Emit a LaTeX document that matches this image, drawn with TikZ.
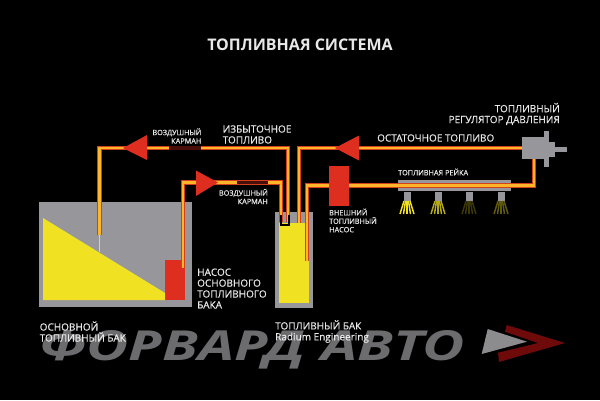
\documentclass[tikz,border=0pt]{standalone}
\usepackage{fontspec}
\setmainfont{Open Sans}
\newfontfamily\labfont[FakeBold=0.6]{Open Sans}
\definecolor{bgk}{HTML}{000000}
\definecolor{tankgray}{HTML}{97979B}
\definecolor{fuel}{HTML}{F0E122}
\definecolor{redp}{HTML}{DD2E20}
\definecolor{pipeo}{HTML}{FFB52A}
\definecolor{piper}{HTML}{D2401C}
\definecolor{pocket}{HTML}{4A0E0A}
\definecolor{txt}{HTML}{E8E8E8}
\definecolor{logogray}{HTML}{6C6C6E}
\definecolor{logotri}{HTML}{8C8C8E}
\definecolor{logored}{HTML}{6E0A0A}
\tikzset{
 x=1pt,y=-1pt,
 pipe/.style={draw=piper,line width=1.1pt,double=pipeo,double distance=2.2pt,line join=miter},
 air/.style={draw=pocket,line width=3.5pt},
 labs/.style={text=txt,inner sep=0pt,font=\labfont\fontsize{7.3}{8.5}\selectfont,align=left},
 labl/.style={text=txt,inner sep=0pt,font=\labfont\fontsize{10}{10.9}\selectfont,align=left},
 tank/.style={fill=tankgray,draw=none},
 pumpbox/.style={fill=redp,draw=none},
 arrowhead/.style={fill=redp,draw=none},
 graypart/.style={fill=tankgray,draw=none},
}
\newcommand{\spray}[2]{%
 \foreach \dx/\ex in {-3/-7,-1.5/-3.5,0/0,1.5/3.5,3/7}{
  \draw[color=#2,line width=1.5pt] (#1+\dx,201)--(#1+\ex,214);}
}
\begin{document}
\begin{tikzpicture}
\useasboundingbox (0,0) rectangle (600,400);
\fill[bgk] (0,0) rectangle (600,400);
% watermark logo
\node[anchor=base west,inner sep=0pt,text=logogray] (logotext) at (39,360)
 {\resizebox{426pt}{30pt}{\bfseries\itshape ФОРВАРД АВТО}};
\fill[logored] (506.7,325)--(565,343)--(499,362)--(498,352.7)--(538,343)--(505,331.7)--cycle;
\fill[logotri] (487.7,329)--(527,341.7)--(481.7,354)--cycle;
% main tank
\fill[tank] (39,202) rectangle (192,307);
\fill[fuel] (43,218)--(165,293)--(165,300)--(43,300)--cycle;
\fill[pumpbox] (165,260) rectangle (185,300);
% fuel tank
\fill[tank] (275,212) rectangle (313,308);
\fill[fuel] (279,223) rectangle (309,303);
% pipes
\draw[fuel,line width=1pt] (99.5,235)--(99.5,252);
\coordinate (p1a) at (99.5,235); \coordinate (p1b) at (99.5,148); \coordinate (p1c) at (288,148); \coordinate (p1d) at (288,222);
\draw[pipe] (p1a)--(p1b)--(p1c)--(p1d);
\coordinate (p2a) at (183,268); \coordinate (p2b) at (183,182.5); \coordinate (p2c) at (281,182.5); \coordinate (p2d) at (281,222);
\draw[pipe] (p2a)--(p2b)--(p2c)--(p2d);
\draw[black,line width=1.2pt] (281,215)--(281,225)--(289,225)--(289,215);
\coordinate (p3a) at (299,223); \coordinate (p3b) at (299,148); \coordinate (p3c) at (522,148);
\draw[pipe] (p3a)--(p3b)--(p3c);
\coordinate (p4a) at (307,261); \coordinate (p4b) at (307,185.5); \coordinate (p4c) at (534,185.5); \coordinate (p4d) at (534,159);
% rail behind pipe
\fill[graypart] (398,180) rectangle (511,191);
\draw[pipe] (p4a)--(p4b)--(p4c)--(p4d);
% air pockets
\draw[air] (169,148)--(201,148);
\draw[air] (237,182.5)--(268,182.5);
% arrows
\fill[arrowhead] (123,148)--(147,135)--(147,160)--cycle;
\fill[arrowhead] (218,182.5)--(196,170.5)--(196,196)--cycle;
\fill[arrowhead] (335,148)--(359,135.5)--(359,160.5)--cycle;
% pump 2
\fill[pumpbox] (329,166) rectangle (349,206);
% regulator
\fill[graypart] (522,137) rectangle (549,159);
\fill[graypart] (544,131) rectangle (549,167);
\fill[graypart] (549,142) rectangle (555,157);
\fill[graypart] (555,147) rectangle (567,152);
% injectors
\foreach \ix/\c in {407/fuel,438/fuel!75!black,469/fuel!25!black,501/fuel!40!black}{
 \fill[graypart] (\ix-3.5,192) rectangle (\ix+3.5,201);
 \spray{\ix}{\c}
}
% labels
\node[text=txt,inner sep=0pt,font=\fontsize{16}{18}\selectfont\bfseries] (title) at (300,45) {ТОПЛИВНАЯ СИСТЕМА};
\node[labs,anchor=east,align=right] (a1) at (201.5,136) {ВОЗДУШНЫЙ\\КАРМАН};
\node[labl,anchor=west] (a2) at (222.5,134.5) {ИЗБЫТОЧНОЕ\\ТОПЛИВО};
\node[labs,anchor=east,align=right] (a3) at (268,196.5) {ВОЗДУШНЫЙ\\КАРМАН};
\node[labl,anchor=west] (a4) at (197,288.5) {НАСОС\\ОСНОВНОГО\\ТОПЛИВНОГО\\БАКА};
\node[labl,anchor=east,align=right] (a5) at (560,114) {ТОПЛИВНЫЙ\\РЕГУЛЯТОР ДАВЛЕНИЯ};
\node[labl,anchor=west] (a6) at (377,138) {ОСТАТОЧНОЕ ТОПЛИВО};
\node[labs,anchor=west] (a7) at (398,172) {ТОПЛИВНАЯ РЕЙКА};
\node[labs,anchor=west] (a8) at (329,220.5) {ВНЕШНИЙ\\ТОПЛИВНЫЙ\\НАСОС};
\node[labl,anchor=west] (a9) at (39.5,331.5) {ОСНОВНОЙ\\ТОПЛИВНЫЙ БАК};
\node[labl,anchor=west] (a10) at (275,331.5) {ТОПЛИВНЫЙ БАК\\Radium Engineering};
\end{tikzpicture}
\end{document}
